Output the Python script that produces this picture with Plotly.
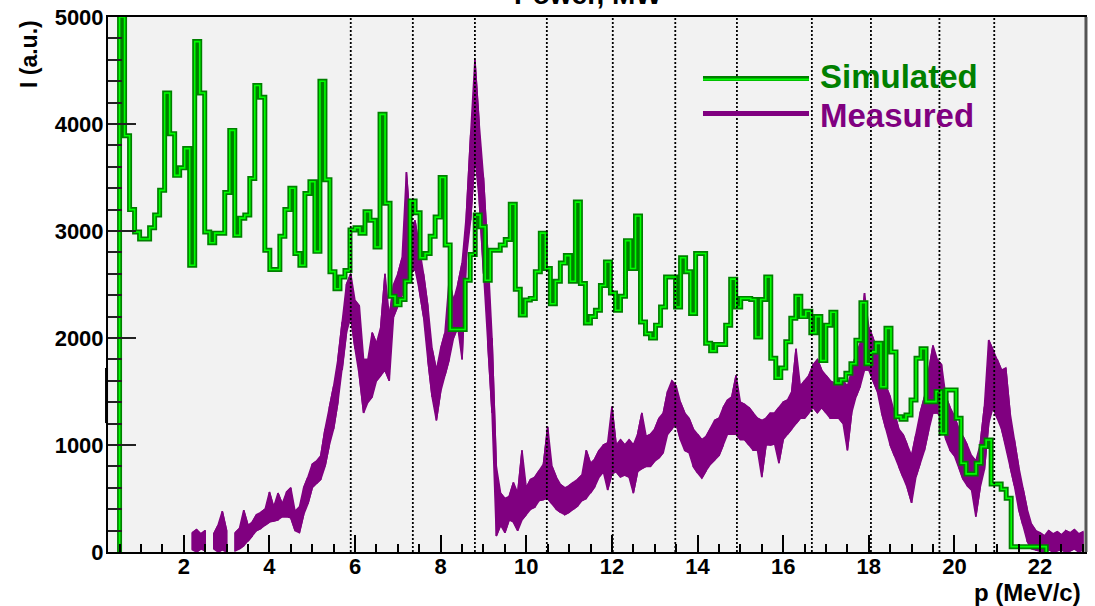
import numpy as np
import plotly.graph_objects as go

# ---------------- data ----------------
# Simulated: step histogram, uniform bins
sim_start = 0.5
sim_width = 0.117
simulated = [
    5000, 3890, 3200, 2990, 2925, 2925, 3030, 3150, 3380, 4290,
    3910, 3520, 3590, 3770, 2680, 4770, 4290, 2990, 2890, 2980,
    2980, 3360, 3940, 2960, 3120, 3150, 3490, 4360, 4250, 2820,
    2640, 2640, 2950, 3200, 3400, 2790, 2680, 3350, 3460, 2810,
    4400, 3480, 2620, 2460, 2570, 2630, 3010, 3030, 2980, 3180,
    3100, 2850, 4090, 3260, 2390, 2310, 2360, 2530, 3280, 3170,
    2750, 2790, 2950, 3130, 3500, 2870, 2080, 2080, 2080, 2540,
    2780, 3150, 3040,
    2540, 2820, 2820, 2870, 2920, 3250, 2455, 2215, 2355, 2370,
    2620, 2980, 2650, 2320, 2530, 2700, 2770, 2530, 3270, 2510,
    2140, 2200, 2260, 2490, 2710, 2420, 2260, 2390, 2910, 2650,
    3140, 2150, 2040, 2000, 2120, 2290, 2570, 2570, 2290, 2750,
    2620, 2230, 2790, 2790, 1950, 1880, 1940, 1940, 2120, 2550,
    2290, 2370, 2370, 2360, 2010, 2360, 2570, 1810, 1630, 1720,
    1965, 2184, 2390,
    2200, 2250, 2050, 2200, 1790, 2120, 2240, 1580, 1610, 1670,
    1760, 1980, 2330, 1760, 1870, 1950, 1545, 2090, 1870, 1265,
    1240, 1280, 1420, 1810, 1900, 1405, 1405, 1500, 1110, 1515,
    1515, 1250,
    830, 730, 730, 830, 985, 1047, 636, 636, 586, 502,
    50, 50, 50, 50, 50, 50, 50,
]

# Measured: noisy band, read as lower / upper envelope every 0.1 MeV/c
meas_p = np.round(np.arange(2.2, 23.05, 0.1), 1)
meas_lo = [
    20, 0, 30, 10, None, 30, 0, 20,
    0, None, 10, 30, 60, 100, 150, 200, 220, 250,
    280, 290, 300, 330, 330, 320, 200, 180, 350, 450,
    600, 640, 680, 800, 1000, 1150, 1400, 1700, 2050, 2200,
    1900, 1650, 1300, 1400, 1450, 1600, 1650, 1700, 1600, 2200,
    2300, 2400, 2500, 2600, 2650, 2450, 2200, 1800, 1450, 1230,
    1500, 1650, 1800, 2000, 2100, 1800, 2750, 3100, 3700, 3300,
    2600, 1950, 1300, 150, 250, 180, 300, 280, 200, 300,
    350, 400, 420, 480, 490, 500, 450, 400, 370, 350,
    370, 400, 430, 480, 500, 550, 610, 700, 750, 580,
    730, 750, 700, 720, 700, 550, 750, 780, 800, 800,
    850, 880, 930, 1100, 1150, 1200, 1050, 950, 930, 800,
    740, 690, 760, 820, 860, 900, 1000, 1100, 1100, 1100,
    1050, 1050, 1000, 950, 950, 700, 1000, 1000, 1010, 830,
    1050, 1100, 1150, 1200, 1250, 1250, 1300, 1350, 1300, 1350,
    1300, 1250, 1250, 1250, 1200, 950, 1300, 1450, 1550, 1700,
    1700, 1600, 1500, 1300, 1150, 1000, 900, 800, 700, 600,
    460, 700, 830, 950, 1140, 1300, 1300, 1250, 1050, 950,
    900, 800, 680, 620, 580, 330, 600, 770, 1200, 1350,
    1250, 1150, 1000, 800, 620, 400, 250, 100, 30, 20,
    10, 0, 20, 0, 10, 20, 0, 10, 30, 0, 20,
]
meas_hi = [
    180, 210, 170, 200, None, 170, 250, 380,
    200, None, 180, 220, 390, 250, 280, 350, 370, 400,
    560, 420, 550, 450, 560, 600, 380, 420, 600, 700,
    820, 850, 900, 1150, 1350, 1550, 1800, 2150, 2500, 2600,
    2350, 2300, 1800, 1800, 2050, 1950, 2100, 2600, 2200, 2500,
    2600, 2750, 3550, 3000, 3100, 2850, 2600, 2300, 1900, 1700,
    1900, 2050, 2550, 2350, 2500, 2700, 3150, 3900, 4600, 4000,
    3500, 2800, 2000, 800, 550, 500, 520, 650, 550, 950,
    600, 680, 700, 760, 820, 1170, 800, 700, 630, 600,
    620, 650, 680, 720, 950, 830, 870, 950, 1000, 1020,
    1360, 1000, 1050, 1000, 1050, 1000, 1100, 1300, 1080, 1100,
    1150, 1250, 1300, 1500, 1600, 1550, 1400, 1300, 1250, 1150,
    1100, 1050, 1080, 1150, 1230, 1250, 1350, 1420, 1450, 1650,
    1400, 1380, 1350, 1300, 1250, 1230, 1250, 1300, 1300, 1350,
    1400, 1420, 1500, 1900, 1550, 1600, 1650, 1750, 1800, 1700,
    1650, 1600, 1580, 1550, 1600, 1550, 1700, 1850, 1950, 2420,
    2100, 2000, 1900, 1650, 1550, 1450, 1300, 1150, 1100, 1000,
    900, 1100, 1300, 1450, 1700, 1930, 1800, 1750, 1450, 1350,
    1270, 1150, 1080, 1000, 900, 850, 1000, 1360, 1980, 1890,
    1800, 1700, 1720, 1300, 1050, 800, 600, 400, 260, 200,
    180, 150, 200, 170, 190, 160, 200, 180, 210, 170, 190,
]

# reference lines (dotted verticals)
ref_lines = [5.9, 7.35, 8.8, 10.48, 12.02, 13.48, 14.92, 16.67, 18.05, 19.65, 20.93]

title_text = "Power, MW"
y_title = "I (a.u.)"
x_title = "p (MeV/c)"
legend_names = ["Simulated", "Measured"]

GREEN_DARK = "#008000"
GREEN_LIGHT = "#00ff00"
PURPLE = "#800080"
FONT = "Liberation Sans, Arial, Helvetica, sans-serif"

# ---------------- build traces ----------------
n = len(simulated)
edges = [sim_start + sim_width * k for k in range(n + 1)]
sx = [edges[0]] + edges[:n] + [edges[n], edges[n]]
sy = [0] + simulated + [simulated[-1], 0]

# band polygons for measured; zig-zag strokes between envelopes for a noisy look
bx, by = [], []
zx, zy = [], []
seg = []
def flush(seg):
    if not seg:
        return
    xs = [s[0] for s in seg]
    bx.extend(xs + xs[::-1] + [xs[0], None])
    by.extend([s[2] for s in seg] + [s[1] for s in seg][::-1] + [seg[0][2], None])
    for i, s in enumerate(seg):
        if i % 2 == 0:
            zx.extend([s[0], s[0]]); zy.extend([s[1], s[2]])
        else:
            zx.extend([s[0], s[0]]); zy.extend([s[2], s[1]])
    zx.append(None); zy.append(None)

for p, l, h in zip(meas_p, meas_lo, meas_hi):
    if l is None:
        flush(seg)
        seg = []
    else:
        seg.append((float(p), l, h))
flush(seg)

fig = go.Figure()
fig.add_trace(go.Scatter(x=bx, y=by, mode="lines", fill="toself", fillcolor=PURPLE,
                         line=dict(color=PURPLE, width=1.5), name=legend_names[1],
                         hoverinfo="skip"))
fig.add_trace(go.Scatter(x=zx, y=zy, mode="lines",
                         line=dict(color=PURPLE, width=1.5), showlegend=False,
                         hoverinfo="skip"))
fig.add_trace(go.Scatter(x=sx, y=sy, mode="lines", line_shape="hv",
                         line=dict(color=GREEN_DARK, width=5), name=legend_names[0]))
fig.add_trace(go.Scatter(x=sx, y=sy, mode="lines", line_shape="hv",
                         line=dict(color=GREEN_LIGHT, width=1.6), showlegend=False,
                         hoverinfo="skip"))

shapes = []
for xv in ref_lines:
    shapes.append(dict(type="line", xref="x", yref="paper", x0=xv, x1=xv, y0=0, y1=1,
                       line=dict(color="black", width=1.8, dash="2px,2px"), layer="above"))
# right frame edge (grey, as in original)
shapes.append(dict(type="line", xref="paper", yref="paper", x0=1.001, x1=1.001, y0=0, y1=1,
                   line=dict(color="#555555", width=3)))
# small thick mark on the left axis
shapes.append(dict(type="line", xref="paper", yref="y", x0=-0.0015, x1=-0.0015, y0=1205, y1=1720,
                   line=dict(color="black", width=3)))
# manual legend lines
shapes.append(dict(type="line", xref="paper", yref="paper", x0=0.609, x1=0.7175, y0=0.885, y1=0.885,
                   line=dict(color=GREEN_DARK, width=5)))
shapes.append(dict(type="line", xref="paper", yref="paper", x0=0.609, x1=0.7175, y0=0.883, y1=0.883,
                   line=dict(color=GREEN_LIGHT, width=2)))
shapes.append(dict(type="line", xref="paper", yref="paper", x0=0.609, x1=0.7175, y0=0.8196, y1=0.8196,
                   line=dict(color=PURPLE, width=5)))

annotations = [
    dict(text=legend_names[0], xref="paper", yref="paper", x=0.7267, y=0.888,
         xanchor="left", yanchor="middle", showarrow=False,
         font=dict(family=FONT, size=33, color=GREEN_DARK, weight="bold")),
    dict(text=legend_names[1], xref="paper", yref="paper", x=0.7267, y=0.815,
         xanchor="left", yanchor="middle", showarrow=False,
         font=dict(family=FONT, size=33, color=PURPLE, weight="bold")),
    dict(text=title_text, xref="paper", yref="paper", x=0.4913, y=1.0093,
         xanchor="center", yanchor="bottom", showarrow=False,
         font=dict(family=FONT, size=28, color="black", weight="bold")),
    dict(text=y_title, xref="paper", yref="paper", x=-0.0809, y=0.998,
         xanchor="center", yanchor="top", textangle=-90, showarrow=False,
         font=dict(family=FONT, size=23, color="black", weight="bold")),
    dict(text=x_title, xref="paper", yref="paper", x=0.998, y=-0.0766,
         xanchor="right", yanchor="middle", showarrow=False,
         font=dict(family=FONT, size=24, color="black", weight="bold")),
]

fig.update_layout(
    width=1095, height=606,
    margin=dict(l=108, r=10, t=17, b=54, autoexpand=False),
    paper_bgcolor="white", plot_bgcolor="#f2f2f2",
    showlegend=False,
    font=dict(family=FONT, color="black"),
    shapes=shapes, annotations=annotations,
)
fig.update_xaxes(
    range=[0.23, 23.05], showgrid=False, zeroline=False, automargin=False,
    showline=True, linecolor="black", linewidth=2, mirror=True,
    ticks="inside", ticklen=17, tickwidth=2, tickcolor="black",
    tick0=0, dtick=2, ticklabelstandoff=-6,
    tickfont=dict(family=FONT, size=22, color="black", weight="bold"),
    minor=dict(ticks="inside", ticklen=8, tickwidth=2, tickcolor="black", dtick=0.5, showgrid=False),
)
fig.update_yaxes(
    range=[0, 5000], showgrid=False, zeroline=False, automargin=False,
    showline=True, linecolor="black", linewidth=2, mirror=True,
    ticks="inside", ticklen=28, tickwidth=2, tickcolor="#222222",
    tick0=0, dtick=1000, ticklabelstandoff=-2,
    tickfont=dict(family=FONT, size=22, color="black", weight="bold"),
    minor=dict(ticks="inside", ticklen=14, tickwidth=2, tickcolor="#222222", dtick=200, showgrid=False),
)

fig.write_html("out.html", config={"displayModeBar": False},
               post_script="document.body.style.margin='0';document.body.style.padding='0';")
